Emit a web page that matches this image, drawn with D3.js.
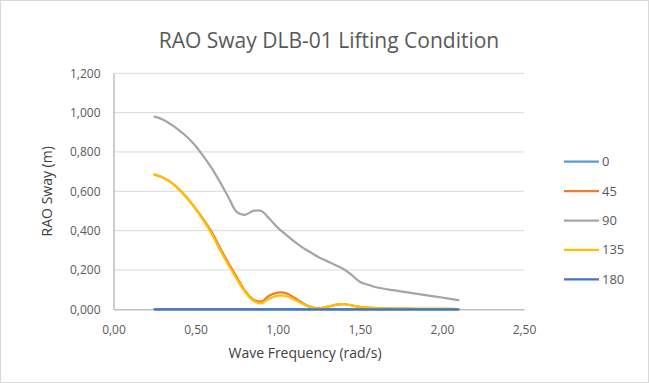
<!DOCTYPE html>
<html>
<head>
<meta charset="utf-8">
<script src="https://cdn.jsdelivr.net/npm/d3@7"></script>
<style>
  body { margin: 0; background: #fff; }
  text { font-family: "Open Sans", "Noto Sans", sans-serif; }
</style>
</head>
<body>
<svg id="chart" width="649" height="383"></svg>
<script>
// headings (wave directions)
var headings = ['0', '45', '90', '135', '180'];
var colors = ['#5B9BD5', '#ED7D31', '#A5A5A5', '#FFC000', '#4472C4'];

// wave frequency (rad/s)
var freq = [0.25, 0.30, 0.35, 0.40, 0.45, 0.50, 0.55, 0.60, 0.65, 0.70, 0.75, 0.80, 0.85, 0.90, 0.95,
            1.00, 1.05, 1.10, 1.15, 1.20, 1.25, 1.30, 1.35, 1.40, 1.45, 1.50, 1.55, 1.60, 1.70,
            1.80, 1.90, 2.00, 2.10];

// RAO sway values (m) per heading
var rao0   = [0, 0, 0, 0, 0, 0, 0, 0, 0, 0, 0, 0, 0, 0, 0, 0, 0, 0, 0, 0, 0, 0, 0, 0, 0, 0, 0, 0, 0, 0, 0, 0, 0];
var rao45  = [0.685, 0.670, 0.645, 0.610, 0.565, 0.512, 0.455, 0.390, 0.310, 0.235, 0.165, 0.095, 0.050, 0.040, 0.070,
              0.085, 0.082, 0.060, 0.033, 0.012, 0.005, 0.012, 0.022, 0.026, 0.020, 0.012, 0.008, 0.006, 0.004,
              0.003, 0.002, 0.002, 0.001];
var rao90  = [0.980, 0.965, 0.940, 0.910, 0.875, 0.830, 0.775, 0.715, 0.645, 0.570, 0.495, 0.480, 0.500, 0.500, 0.460,
              0.415, 0.380, 0.345, 0.315, 0.290, 0.265, 0.245, 0.225, 0.205, 0.175, 0.140, 0.125, 0.112, 0.097,
              0.085, 0.072, 0.060, 0.047];
var rao135 = [0.685, 0.670, 0.645, 0.610, 0.565, 0.510, 0.450, 0.380, 0.300, 0.225, 0.155, 0.090, 0.045, 0.030, 0.055,
              0.070, 0.068, 0.050, 0.028, 0.010, 0.005, 0.012, 0.022, 0.026, 0.020, 0.012, 0.008, 0.006, 0.004,
              0.003, 0.002, 0.002, 0.001];
var rao180 = [0, 0, 0, 0, 0, 0, 0, 0, 0, 0, 0, 0, 0, 0, 0, 0, 0, 0, 0, 0, 0, 0, 0, 0, 0, 0, 0, 0, 0, 0, 0, 0, 0];

var series = [rao0, rao45, rao90, rao135, rao180];

var xTicks = [0, 0.5, 1.0, 1.5, 2.0, 2.5];
var yTicks = [0, 0.2, 0.4, 0.6, 0.8, 1.0, 1.2];

var svg = d3.select('#chart');
var svgWidth = +svg.attr('width');
var svgHeight = +svg.attr('height');

// chart border
svg.append('rect')
    .attr('x', 0.5).attr('y', 0.5)
    .attr('width', svgWidth - 1).attr('height', svgHeight - 1)
    .attr('fill', '#fff')
    .attr('stroke', '#d9d9d9');

var plot = {l: 113.5, r: 524, t: 73.3, b: 309.3};

var xScale = d3.scaleLinear().domain([0, 2.5]).range([plot.l, plot.r]);
var yScale = d3.scaleLinear().domain([0, 1.2]).range([plot.b, plot.t]);

// decimal comma, dot as thousands separator
var fmtX = function(d) { return d3.format('.2f')(d).replace('.', ','); };
var fmtY = function(d) { return d3.format('.3f')(d).replace('.', ',').replace(/^1,(\d)(\d\d)$/, '1,$1$2'); };

// gridlines
svg.append('g')
    .selectAll('line')
    .data(yTicks.slice(1))
    .enter().append('line')
    .attr('x1', plot.l).attr('x2', plot.r)
    .attr('y1', function(d) { return yScale(d); })
    .attr('y2', function(d) { return yScale(d); })
    .attr('stroke', '#d9d9d9')
    .attr('stroke-width', 1);

// axes
var xAxisG = svg.append('g')
    .attr('transform', 'translate(0,' + plot.b + ')')
    .call(d3.axisBottom(xScale).tickValues(xTicks).tickFormat(fmtX).tickSize(0).tickPadding(16));
var yAxisG = svg.append('g')
    .attr('transform', 'translate(' + plot.l + ',0)')
    .call(d3.axisLeft(yScale).tickValues(yTicks).tickFormat(fmtY).tickSize(0).tickPadding(13));

[xAxisG, yAxisG].forEach(function(g) {
    g.select('.domain').attr('stroke', '#bfbfbf').attr('stroke-width', 1.5);
    g.selectAll('text')
        .attr('fill', '#595959')
        .style('font-size', '12px')
        .style('font-family', '"Open Sans", sans-serif');
});

// lines
var line = d3.line()
    .x(function(d) { return xScale(d[0]); })
    .y(function(d) { return yScale(d[1]); })
    .curve(d3.curveCatmullRom);

series.forEach(function(vals, i) {
    svg.append('path')
        .datum(freq.map(function(f, j) { return [f, vals[j]]; }))
        .attr('d', line)
        .attr('fill', 'none')
        .attr('stroke', colors[i])
        .attr('stroke-width', 2.25)
        .attr('stroke-linecap', 'round');
});

// title
svg.append('text')
    .attr('x', 329).attr('y', 48)
    .attr('text-anchor', 'middle')
    .attr('fill', '#595959')
    .style('font-size', '21px')
    .text('RAO Sway DLB-01 Lifting Condition');

// axis titles
svg.append('text')
    .attr('x', 305).attr('y', 358)
    .attr('text-anchor', 'middle')
    .attr('fill', '#404040')
    .style('font-size', '14px')
    .text('Wave Frequency (rad/s)');

svg.append('text')
    .attr('transform', 'translate(52,' + ((plot.t + plot.b) / 2) + ') rotate(-90)')
    .attr('text-anchor', 'middle')
    .attr('fill', '#404040')
    .style('font-size', '14px')
    .text('RAO Sway (m)');

// legend
var legend = svg.append('g')
    .selectAll('g')
    .data(headings)
    .enter().append('g')
    .attr('transform', function(d, i) { return 'translate(564,' + (161.7 + i * 29.4) + ')'; });

legend.append('line')
    .attr('x1', 0).attr('x2', 35)
    .attr('stroke', function(d, i) { return colors[i]; })
    .attr('stroke-width', 2.25);

legend.append('text')
    .attr('x', 38).attr('y', 4.5)
    .attr('fill', '#595959')
    .style('font-size', '13px')
    .text(function(d) { return d; });
</script>
</body>
</html>
